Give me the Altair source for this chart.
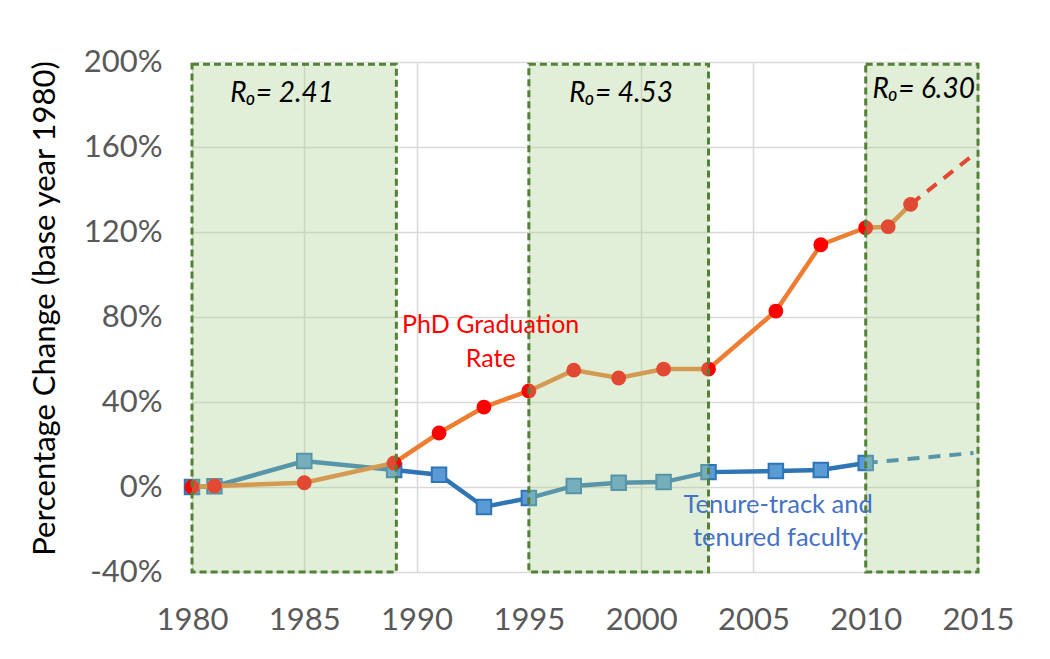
import altair as alt
import pandas as pd

# ---- data ----
phd_years = [1980, 1981, 1985, 1989, 1991, 1993, 1995, 1997, 1999, 2001, 2003, 2006, 2008, 2010, 2011, 2012]
phd_values = [0.0, 0.005, 0.02, 0.113, 0.254, 0.376, 0.452, 0.55, 0.513, 0.555, 0.555, 0.828, 1.14, 1.22, 1.225, 1.33]

fac_years = [1980, 1981, 1985, 1989, 1991, 1993, 1995, 1997, 1999, 2001, 2003, 2006, 2008, 2010]
fac_values = [0.0, 0.004, 0.122, 0.08, 0.058, -0.094, -0.052, 0.005, 0.02, 0.023, 0.07, 0.075, 0.08, 0.113]

phd_proj_years = [2012, 2014.7]
phd_proj_values = [1.33, 1.555]
fac_proj_years = [2010, 2014.8]
fac_proj_values = [0.113, 0.16]

box_start = [1980, 1995, 2010]
box_end = [1989.1, 2003, 2015]
box_low = [-0.4, -0.4, -0.4]
box_high = [1.99, 1.99, 1.99]

r0_labels = ["R\u2080= 2.41", "R\u2080= 4.53", "R\u2080= 6.30"]
r0_x = [1981.7, 1996.8, 2010.3]
r0_y = [1.81, 1.81, 1.83]

x_ticks = [1980, 1985, 1990, 1995, 2000, 2005, 2010, 2015]
y_ticks = [-0.4, 0.0, 0.4, 0.8, 1.2, 1.6, 2.0]

FONT = "Lato, Noto Sans, DejaVu Sans"

phd_df = pd.DataFrame({"year": phd_years, "value": phd_values})
fac_df = pd.DataFrame({"year": fac_years, "value": fac_values})
phd_proj_df = pd.DataFrame({"year": phd_proj_years, "value": phd_proj_values})
fac_proj_df = pd.DataFrame({"year": fac_proj_years, "value": fac_proj_values})
box_df = pd.DataFrame({"year": box_start, "x2": box_end, "value": box_low, "y2": box_high})
r0_df = pd.DataFrame({"label": r0_labels, "year": r0_x, "value": r0_y})
phd_lab_df = pd.DataFrame({"label": ["PhD Graduation\nRate"], "year": [1993.3], "value": [0.725]})
fac_lab_df = pd.DataFrame({"label": ["Tenure-track and\ntenured faculty"], "year": [2006.1], "value": [-0.123]})

x_scale = alt.Scale(domain=[1980, 2015], nice=False, zero=False)
y_scale = alt.Scale(domain=[-0.4, 2.0], nice=False)

x_axis = alt.Axis(values=x_ticks, format="d", grid=True, gridColor="#D9D9D9", gridWidth=1.5,
                  domain=False, ticks=False, labelFontSize=31, labelColor="#595959",
                  labelPadding=33, labelFont=FONT, labelFlush=False, labelOverlap=False,
                  title=None)
y_axis = alt.Axis(values=y_ticks, labelExpr="round(datum.value*100) + '%'", grid=True,
                  gridColor="#D9D9D9", gridWidth=1.5, domain=False, ticks=False,
                  labelFontSize=31, labelColor="#595959", labelPadding=30, labelFont=FONT,
                  labelFlush=False, labelOverlap=False,
                  title="Percentage Change (base year 1980)", titleFontSize=31,
                  titleFont=FONT, titleFontWeight="normal", titleColor="#000000",
                  titleX=-147, titleY=246, titleAngle=270, titleAlign="center",
                  titleBaseline="middle")

X = alt.X("year:Q", scale=x_scale, axis=x_axis, title=None)
Y = alt.Y("value:Q", scale=y_scale, axis=y_axis, title="Percentage Change (base year 1980)")

fac_line = alt.Chart(fac_df).mark_line(color="#2E75B6", strokeWidth=4.5).encode(x=X, y=Y)
fac_proj = alt.Chart(fac_proj_df).mark_line(color="#2E75B6", strokeWidth=4, strokeDash=[12, 9]).encode(x=X, y=Y)
fac_pts = alt.Chart(fac_df).mark_point(shape="square", filled=True, size=210, fill="#5B9BD5",
                                       stroke="#2E75B6", strokeWidth=2, opacity=1).encode(x=X, y=Y)

phd_line = alt.Chart(phd_df).mark_line(color="#ED7D31", strokeWidth=4.5).encode(x=X, y=Y)
phd_proj = alt.Chart(phd_proj_df).mark_line(color="#FF0000", strokeWidth=4, strokeDash=[12, 9]).encode(x=X, y=Y)
phd_pts = alt.Chart(phd_df).mark_circle(size=220, color="#FF0000", opacity=1).encode(x=X, y=Y)

boxes_fill = alt.Chart(box_df).mark_rect(fill="#A9D08E", fillOpacity=0.35).encode(
    x=X, x2="x2:Q", y=Y, y2="y2:Q",
)
boxes_border = alt.Chart(box_df).mark_rect(fillOpacity=0, stroke="#538135", strokeWidth=3,
                                           strokeDash=[7, 4]).encode(
    x=X, x2="x2:Q", y=Y, y2="y2:Q",
)

r0_text = alt.Chart(r0_df).mark_text(align="left", baseline="alphabetic", fontStyle="italic",
                                     fontSize=28, font=FONT, color="#000000").encode(
    x=X, y=Y, text="label:N")
phd_text = alt.Chart(phd_lab_df).mark_text(align="center", baseline="alphabetic", fontSize=25,
                                           font=FONT, color="#FF0000", lineBreak="\n",
                                           lineHeight=34).encode(x=X, y=Y, text="label:N")
fac_text = alt.Chart(fac_lab_df).mark_text(align="center", baseline="alphabetic", fontSize=25.5,
                                           font=FONT, color="#4472C4", lineBreak="\n",
                                           lineHeight=33).encode(x=X, y=Y, text="label:N")

chart = alt.layer(
    fac_line, fac_proj, fac_pts, phd_line, phd_proj, phd_pts,
    boxes_fill, boxes_border, r0_text, phd_text, fac_text
).properties(
    width=786, height=510,
    autosize=alt.AutoSizeParams(type="none"),
    padding={"left": 184, "top": 54, "right": 50, "bottom": 76},
    background="#FFFFFF",
).configure_view(stroke=None)

chart.save("out.html", embed_options={"renderer": "svg", "actions": False})
